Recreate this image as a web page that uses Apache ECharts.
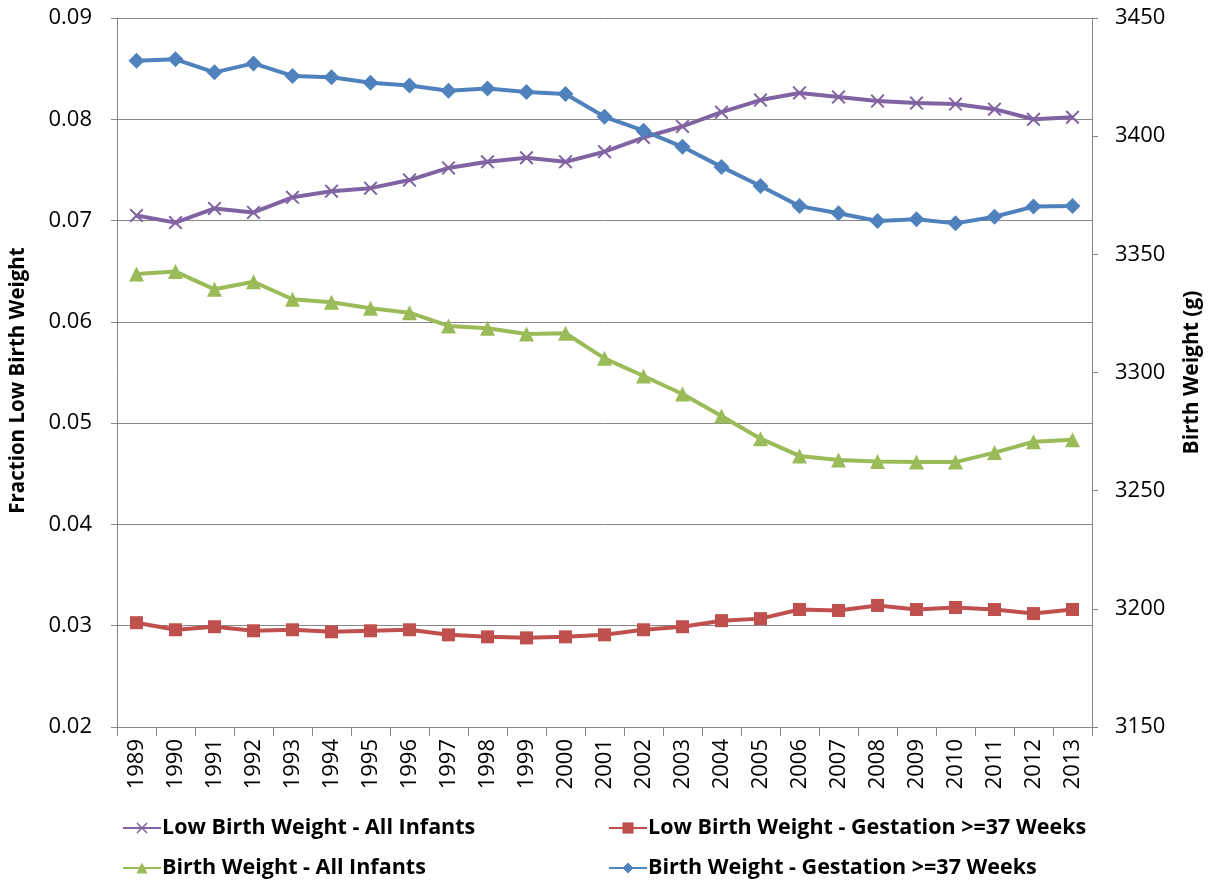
<!DOCTYPE html>
<html>
<head>
<meta charset="utf-8">
<script src="https://cdn.jsdelivr.net/npm/echarts@6/dist/echarts.min.js"></script>
<style>
html,body{margin:0;padding:0;background:#fff;}
#chart{width:1217px;height:886px;}
</style>
</head>
<body>
<div id="chart"></div>
<script>
const years = ['1989','1990','1991','1992','1993','1994','1995','1996','1997','1998','1999','2000','2001','2002','2003','2004','2005','2006','2007','2008','2009','2010','2011','2012','2013'];
const lbwAll = [0.0705,0.0698,0.0712,0.0708,0.0723,0.0729,0.0732,0.0740,0.0752,0.0758,0.0762,0.0758,0.0768,0.0782,0.0793,0.0807,0.0819,0.0826,0.0822,0.0818,0.0816,0.0815,0.0810,0.0800,0.0802];
const lbw37 = [0.0303,0.0296,0.0299,0.0295,0.0296,0.0294,0.0295,0.0296,0.0291,0.0289,0.0288,0.0289,0.0291,0.0296,0.0299,0.0305,0.0307,0.0316,0.0315,0.0320,0.0316,0.0318,0.0316,0.0312,0.0316];
const bwAll = [3341.7,3342.7,3335.2,3338.4,3331.0,3329.7,3327.2,3325.3,3319.7,3318.7,3316.3,3316.6,3306.0,3298.5,3290.9,3281.6,3272.0,3264.7,3263.0,3262.3,3262.1,3262.1,3266.1,3270.7,3271.5];
const bw37 = [3431.9,3432.5,3427.0,3430.8,3425.5,3424.9,3422.6,3421.4,3419.2,3420.2,3418.7,3417.8,3408.2,3402.3,3395.5,3387.0,3378.9,3370.4,3367.4,3364.1,3364.8,3363.1,3365.9,3370.2,3370.5];

const names = ['Low Birth Weight - All Infants','Low Birth Weight - Gestation >=37 Weeks','Birth Weight - All Infants','Birth Weight - Gestation >=37 Weeks'];
const FONT = '"Open Sans", "Noto Sans", sans-serif';
const crossPath = 'path://M0,1 L1,0 L5,4 L9,0 L10,1 L6,5 L10,9 L9,10 L5,6 L1,10 L0,9 L4,5 Z';

const chart = echarts.init(document.getElementById('chart'), null, {renderer:'canvas'});
const legendBase = {
  orient:'horizontal', itemWidth:38, itemHeight:14, itemGap:0,
  textStyle:{fontFamily:FONT, fontWeight:'bold', fontSize:21.5, color:'#000', padding:[0,0,0,-4]},
  padding:0
};
chart.setOption({
  animation:false,
  backgroundColor:'#fff',
  textStyle:{fontFamily:FONT},
  grid:{left:110, right:125, top:18, bottom:159, containLabel:false},
  legend:[
    Object.assign({}, legendBase, {data:[names[0]], left:122, top:817}),
    Object.assign({}, legendBase, {data:[names[1]], left:608, top:817}),
    Object.assign({}, legendBase, {data:[names[2]], left:122, top:857}),
    Object.assign({}, legendBase, {data:[names[3]], left:608, top:857})
  ],
  xAxis:{
    type:'category', data:years, boundaryGap:true,
    axisLine:{lineStyle:{color:'#868686', width:1}},
    axisTick:{show:true, length:9, alignWithLabel:false, lineStyle:{color:'#868686'}},
    axisLabel:{rotate:90, fontSize:22, color:'#000', margin:12, fontFamily:FONT, interval:0},
    splitLine:{show:false}
  },
  yAxis:[
    {
      type:'value', min:0.02, max:0.09, interval:0.01, position:'left',
      name:'Fraction Low Birth Weight', nameLocation:'middle', nameGap:88,
      nameTextStyle:{fontSize:20.5, fontWeight:'bold', color:'#000', fontFamily:FONT, padding:[0,16,0,0]},
      axisLine:{show:true, lineStyle:{color:'#868686'}},
      axisTick:{show:true, length:6, lineStyle:{color:'#868686'}},
      axisLabel:{fontSize:22, color:'#000', margin:25, fontFamily:FONT, formatter:v=>v.toFixed(2)},
      splitLine:{show:true, lineStyle:{color:'#868686', width:1}}
    },
    {
      type:'value', min:3150, max:3450, interval:50, position:'right',
      name:'Birth Weight (g)', nameLocation:'middle', nameGap:90, nameRotate:90,
      nameTextStyle:{fontSize:21, fontWeight:'bold', color:'#000', fontFamily:FONT},
      axisLine:{show:true, lineStyle:{color:'#868686'}},
      axisTick:{show:true, length:6, lineStyle:{color:'#868686'}},
      axisLabel:{fontSize:22, color:'#000', margin:23, fontFamily:FONT, formatter:v=>String(v)},
      splitLine:{show:false}
    }
  ],
  series:[
    {name:names[0], type:'line', yAxisIndex:0, data:lbwAll, symbol:crossPath, symbolSize:14,
     lineStyle:{color:'#8064A2', width:4}, itemStyle:{color:'#8064A2'}},
    {name:names[1], type:'line', yAxisIndex:0, data:lbw37, symbol:'rect', symbolSize:13,
     lineStyle:{color:'#C0504D', width:4}, itemStyle:{color:'#C0504D'}},
    {name:names[2], type:'line', yAxisIndex:1, data:bwAll, symbol:'triangle', symbolSize:15,
     lineStyle:{color:'#9BBB59', width:4}, itemStyle:{color:'#9BBB59'}},
    {name:names[3], type:'line', yAxisIndex:1, data:bw37, symbol:'diamond', symbolSize:16,
     lineStyle:{color:'#4F81BD', width:4}, itemStyle:{color:'#4F81BD'}}
  ]
});
</script>
</body>
</html>
